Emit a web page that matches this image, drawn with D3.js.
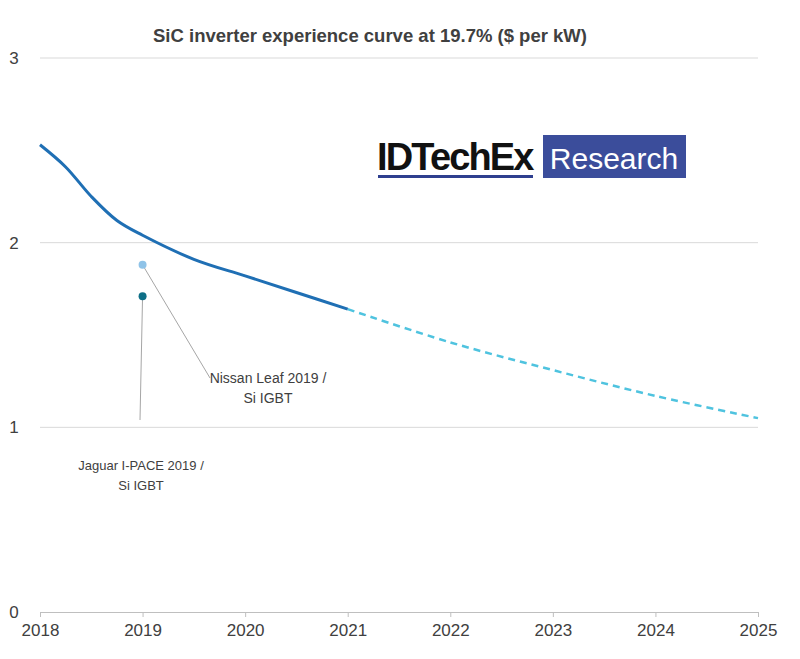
<!DOCTYPE html>
<html><head><meta charset="utf-8">
<script src="https://cdn.jsdelivr.net/npm/d3@7"></script>
<style>body{margin:0;background:#fff;font-family:Arial,"Liberation Sans",sans-serif}</style>
</head><body><svg id="chart" width="800" height="659"></svg>
<script>
var years = [2018, 2018.25, 2018.5, 2018.75, 2019, 2019.5, 2020, 2020.5, 2021];
var actual = [2.53, 2.41, 2.25, 2.12, 2.04, 1.91, 1.82, 1.73, 1.64];
var forecastYears = [2021, 2022, 2023, 2024, 2025];
var forecast = [1.64, 1.46, 1.31, 1.17, 1.05];
var cars = [
    {name: ['Nissan Leaf 2019 /', 'Si IGBT'], year: 2019, value: 1.88, color: '#8fc3e8', lx: 210, ly: 378},
    {name: ['Jaguar I-PACE 2019 /', 'Si IGBT'], year: 2019, value: 1.71, color: '#0e6f87', lx: 140, ly: 420}
];
var xTicks = [2018, 2019, 2020, 2021, 2022, 2023, 2024, 2025];
var yTicks = [0, 1, 2, 3];

var svg = d3.select('#chart');
var x = d3.scaleLinear().domain([2018, 2025]).range([40, 758]);
var y = d3.scaleLinear().domain([0, 3]).range([612, 58]);

// gridlines
svg.selectAll('line.grid').data(yTicks.slice(1)).enter().append('line')
    .attr('x1', 40).attr('x2', 758)
    .attr('y1', y).attr('y2', y)
    .attr('stroke', '#d9d9d9');

var xAxis = svg.append('g').attr('transform', 'translate(0,612)')
    .call(d3.axisBottom(x).tickValues(xTicks).tickFormat(d3.format('d')).tickSize(5));
xAxis.select('.domain').attr('stroke', '#bfbfbf');
xAxis.selectAll('line').attr('stroke', '#bfbfbf');
xAxis.selectAll('text').attr('font-size', 17).attr('fill', '#404040').attr('dy', '0.95em');

svg.selectAll('text.ytick').data(yTicks).enter().append('text')
    .attr('x', 14).attr('y', function (d) { return y(d) + 6; })
    .attr('text-anchor', 'middle').attr('font-size', 17).attr('fill', '#404040')
    .text(String);

var line = d3.line().x(function (d) { return x(d[0]); }).y(function (d) { return y(d[1]); })
    .curve(d3.curveCatmullRom);

svg.append('path').datum(d3.zip(forecastYears, forecast))
    .attr('d', line).attr('fill', 'none')
    .attr('stroke', '#4fc3df').attr('stroke-width', 2.5).attr('stroke-dasharray', '7,5');
svg.append('path').datum(d3.zip(years, actual))
    .attr('d', line).attr('fill', 'none')
    .attr('stroke', '#1f6fb4').attr('stroke-width', 3);

// car points and leaders
cars.forEach(function (c) {
    svg.append('line').attr('x1', x(c.year)).attr('y1', y(c.value))
        .attr('x2', c.lx).attr('y2', c.ly)
        .attr('stroke', '#a6a6a6');
    svg.append('circle').attr('cx', x(c.year)).attr('cy', y(c.value)).attr('r', 4)
        .attr('fill', c.color);
});
svg.append('text').attr('text-anchor', 'middle').attr('font-size', 14).attr('fill', '#404040')
    .selectAll('tspan').data(cars[0].name).enter().append('tspan')
    .attr('x', 268).attr('y', function (d, i) { return 383 + i * 20; }).text(String);
svg.append('text').attr('text-anchor', 'middle').attr('font-size', 13).attr('fill', '#404040')
    .selectAll('tspan').data(cars[1].name).enter().append('tspan')
    .attr('x', 141).attr('y', function (d, i) { return 470 + i * 20; }).text(String);

// title
svg.append('text').attr('x', 370).attr('y', 42).attr('text-anchor', 'middle')
    .attr('font-size', 18.5).attr('font-weight', 'bold').attr('fill', '#404040')
    .text('SiC inverter experience curve at 19.7% ($ per kW)');

// logo
svg.append('text').attr('x', 377).attr('y', 170).attr('font-size', 38).attr('font-weight', 600)
    .attr('fill', '#111').attr('letter-spacing', -1.5).attr('textLength', 156).text('IDTechEx');
svg.append('rect').attr('x', 378).attr('y', 175).attr('width', 155).attr('height', 3).attr('fill', '#2e3f8f');
svg.append('rect').attr('x', 543).attr('y', 135).attr('width', 143).attr('height', 43).attr('fill', '#3b4d9b');
svg.append('text').attr('x', 614).attr('y', 169).attr('text-anchor', 'middle')
    .attr('font-size', 30).attr('fill', '#fff').text('Research');
</script></body></html>
